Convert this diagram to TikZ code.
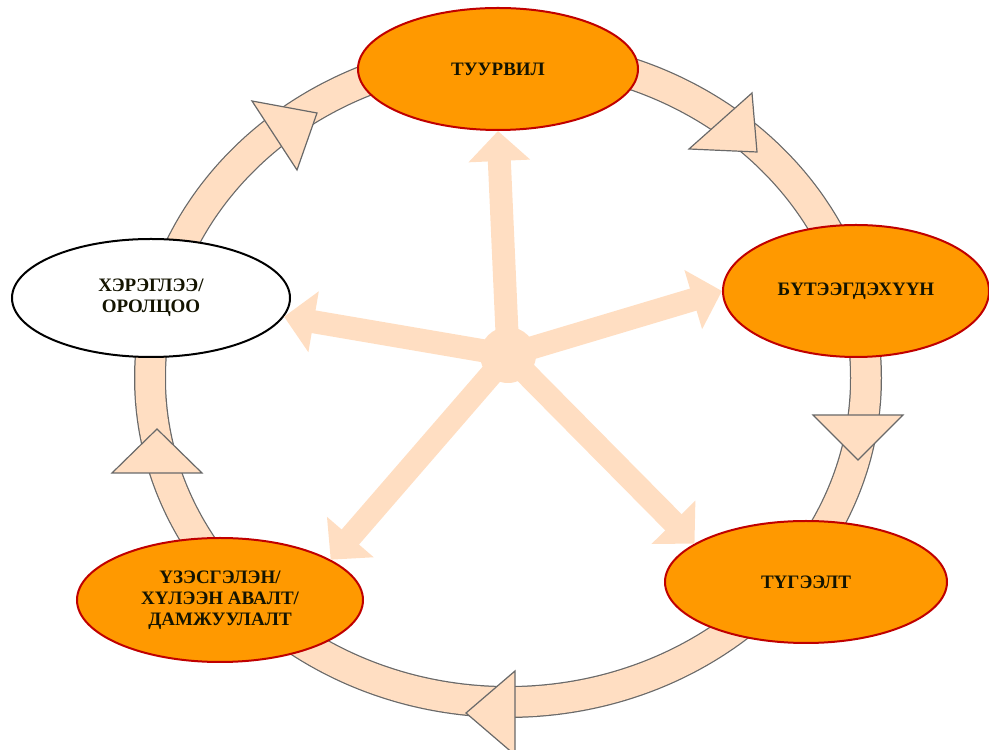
\documentclass[tikz,border=0pt]{standalone}
\usepackage{fontspec}
\setmainfont{Liberation Serif}
\usetikzlibrary{shapes.geometric,arrows.meta}
\definecolor{peach}{RGB}{255,222,194}
\definecolor{ringedge}{RGB}{105,105,105}
\definecolor{orangefill}{RGB}{255,153,0}
\definecolor{rededge}{RGB}{192,0,0}
\definecolor{textdark}{RGB}{20,20,0}
\tikzset{
  stage/.style={ellipse, draw=rededge, line width=2pt, fill=orangefill, inner sep=0pt, align=center,
    text=textdark, font=\fontsize{19}{21}\selectfont\bfseries},
  whitestage/.style={stage, draw=black, fill=white},
  ringtri/.style={draw=ringedge, fill=peach, line width=1.2pt, line join=miter},
  spoke/.style={draw=peach, line width=23pt, -{Triangle[length=30pt,width=60pt,fill=peach,color=peach]}},
  hubstyle/.style={circle, fill=peach, minimum size=56pt, inner sep=0pt}
}
\begin{document}
\begin{tikzpicture}[x=1pt,y=1pt]
\useasboundingbox (0,0) rectangle (989,750);
% ring
\draw[ringedge, line width=32pt] (508,372) ellipse [x radius=358, y radius=324];
\draw[peach, line width=29.5pt] (508,372) ellipse [x radius=358, y radius=324];
% ring arrowheads
\draw[ringtri] (252,649) -- (317,637) -- (297,580) -- cycle;
\draw[ringtri] (752,657) -- (757,598) -- (689,601) -- cycle;
\draw[ringtri] (813,335) -- (903,335) -- (858,290) -- cycle;
\draw[ringtri] (515,79) -- (515,-5) -- (466,37) -- cycle;
\draw[ringtri] (112,277) -- (202,277) -- (157,321) -- cycle;
% nodes
\node[stage, minimum width=280pt, minimum height=122pt] (tuurvil) at (498,681) {ТУУРВИЛ};
\node[stage, minimum width=266pt, minimum height=132pt] (buteeg) at (856,459) {БҮТЭЭГДЭХҮҮН};
\node[whitestage, minimum width=278pt, minimum height=118pt] (khereglee) at (151,452) {ХЭРЭГЛЭЭ/\\ОРОЛЦОО};
\node[stage, minimum width=286pt, minimum height=124pt] (uzesgelen) at (220,150) {ҮЗЭСГЭЛЭН/\\ХҮЛЭЭН АВАЛТ/\\ДАМЖУУЛАЛТ};
\node[stage, minimum width=282pt, minimum height=122pt] (tugeelt) at (806,168) {ТҮГЭЭЛТ};
% hub and spokes
\node[hubstyle] (hub) at (508,395) {};
\draw[spoke] (hub.center) -- (tuurvil.south);
\draw[spoke] (hub.center) -- (buteeg.west);
\draw[spoke] (hub.center) -- (khereglee.-8);
\draw[spoke] (hub.center) -- (uzesgelen.20);
\draw[spoke] (hub.center) -- (tugeelt.161);
\end{tikzpicture}
\end{document}
